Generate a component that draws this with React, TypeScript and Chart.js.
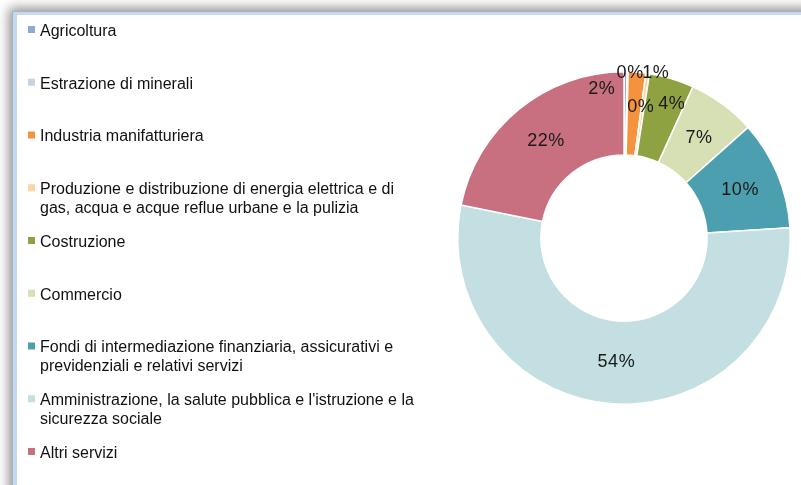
import React, { useEffect, useRef } from "react";
import { Chart, registerables } from "chart.js";

Chart.register(...registerables);

const categories: (string | string[])[] = [
  "Agricoltura",
  "Estrazione di minerali",
  "Industria manifatturiera",
  ["Produzione e distribuzione di energia elettrica e di", "gas, acqua e acque reflue urbane e la pulizia"],
  "Costruzione",
  "Commercio",
  ["Fondi di intermediazione finanziaria, assicurativi e", "previdenziali e relativi servizi"],
  ["Amministrazione, la salute pubblica e l'istruzione e la", "sicurezza sociale"],
  "Altri servizi",
];

// shares (%)
const shares = [0.3, 0.1, 1.7, 0.35, 4.35, 6.6, 10.6, 54.1, 21.8];
// percentage labels as printed on the chart
const shareLabels = ["0%", "1%", "2%", "0%", "4%", "7%", "10%", "54%", "22%"];

const colors = [
  "#8eaad3",
  "#c8d3e0",
  "#f5923e",
  "#fbd5a6",
  "#8ea242",
  "#d7e0b4",
  "#4b9fae",
  "#c3dfe2",
  "#c86f80",
];

// label nudges (px) for the crowded small slices
const labelNudge: [number, number][] = [
  [4, -40],
  [28, -40],
  [-33, -25],
  [-2, -8],
  [11, -15],
  [0, 0],
  [0, 0],
  [0, 0],
  [0, 0],
];

const FONT = "'Liberation Sans', Arial, Helvetica, sans-serif";

const sliceLabels = {
  id: "sliceLabels",
  afterDatasetsDraw(chart: any) {
    const ctx = chart.ctx;
    const meta = chart.getDatasetMeta(0);
    ctx.save();
    ctx.font = `18px ${FONT}`;
    (ctx as any).letterSpacing = "0.6px";
    ctx.fillStyle = "#1a1a1a";
    ctx.textAlign = "center";
    ctx.textBaseline = "middle";
    meta.data.forEach((arc: any, i: number) => {
      const p = arc.getProps(["x", "y", "startAngle", "endAngle", "innerRadius", "outerRadius"], true);
      const mid = (p.startAngle + p.endAngle) / 2;
      const r = (p.innerRadius + p.outerRadius) / 2;
      const [dx, dy] = labelNudge[i];
      ctx.fillText(shareLabels[i], p.x + Math.cos(mid) * r + dx + 1, p.y + Math.sin(mid) * r + dy);
    });
    ctx.restore();
  },
};

const sideLegend = {
  id: "sideLegend",
  afterDraw(chart: any) {
    const ctx = chart.ctx;
    const labels = chart.data.labels as (string | string[])[];
    const bg = chart.data.datasets[0].backgroundColor as string[];
    ctx.save();
    ctx.font = `16px ${FONT}`;
    ctx.textBaseline = "middle";
    ctx.textAlign = "left";
    labels.forEach((lab, i) => {
      const y = 30 + 52.75 * i;
      ctx.fillStyle = bg[i];
      ctx.fillRect(28, y - 4, 7, 7);
      ctx.fillStyle = "#111";
      const lines = Array.isArray(lab) ? lab : [lab];
      lines.forEach((ln, j) => ctx.fillText(ln, 40, y + 1.5 + j * 19));
    });
    ctx.restore();
  },
};

export default function App() {
  const ref = useRef<HTMLCanvasElement>(null);
  useEffect(() => {
    if (!ref.current) return;
    const chart = new Chart(ref.current, {
      type: "doughnut",
      data: {
        labels: categories as any,
        datasets: [
          {
            data: shares,
            backgroundColor: colors,
            borderColor: "#ffffff",
            borderWidth: 1.5,
          },
        ],
      },
      options: {
        animation: false,
        responsive: false,
        cutout: "50%",
        layout: { padding: { left: 457, right: 10, top: 71, bottom: 80 } },
        plugins: {
          legend: { display: false },
          tooltip: { enabled: false },
        },
      },
      plugins: [sliceLabels, sideLegend],
    });
    return () => chart.destroy();
  }, []);

  return (
    <div
      style={{
        position: "fixed",
        left: 0,
        top: 0,
        width: 801,
        height: 485,
        background: "#ffffff",
        overflow: "hidden",
      }}
    >
      <div
        style={{
          position: "absolute",
          left: 13,
          top: 12,
          width: 820,
          height: 500,
          background: "#ffffff",
          borderTop: "3px solid #c6d8ef",
          borderLeft: "4px solid #c6d8ef",
          boxShadow: "0 0 0 1px #a3b3cb, -4px -4px 11px rgba(0,0,0,0.45)",
        }}
      />
      <canvas
        ref={ref}
        width={801}
        height={485}
        style={{ position: "absolute", left: 0, top: 0, width: 801, height: 485 }}
      />
    </div>
  );
}
